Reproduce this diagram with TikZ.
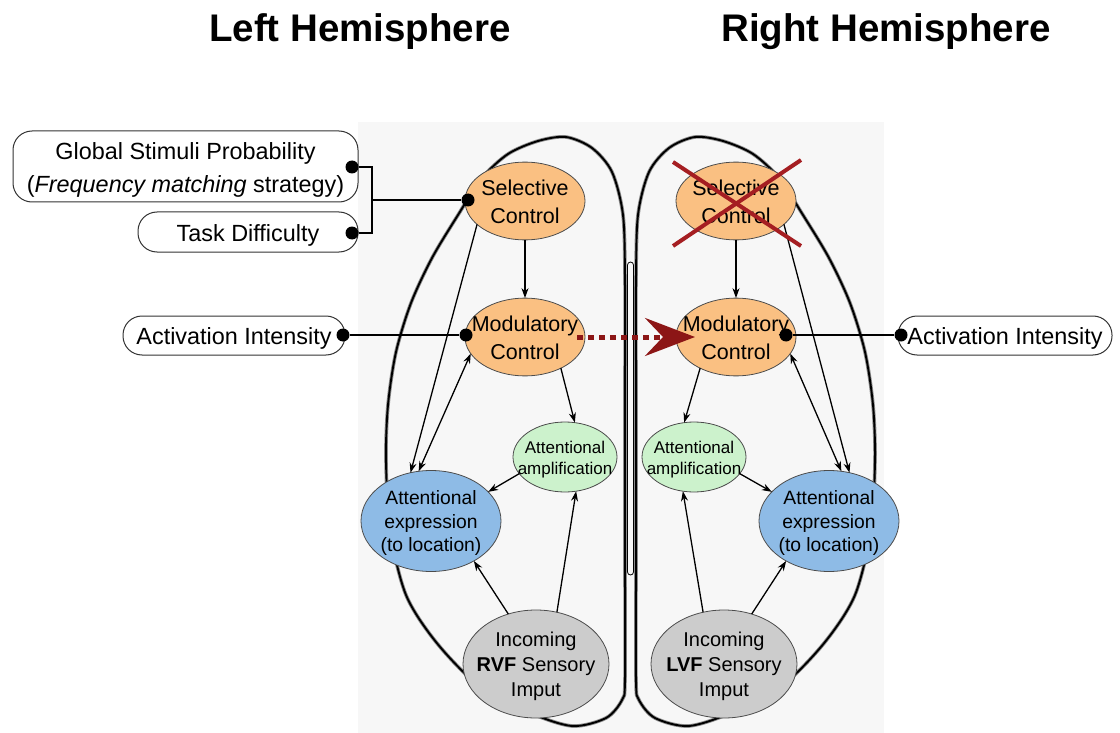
\documentclass[tikz,border=0pt]{standalone}
\usepackage{fontspec}
\setmainfont{Liberation Sans}
\usetikzlibrary{shapes.geometric,arrows.meta}
\definecolor{ctrlfill}{RGB}{250,192,130}
\definecolor{ampfill}{RGB}{204,242,204}
\definecolor{expfill}{RGB}{142,187,230}
\definecolor{incfill}{RGB}{204,204,204}
\definecolor{crossred}{RGB}{165,30,34}
\definecolor{arrred}{RGB}{140,22,22}
\definecolor{bggray}{RGB}{247,247,247}
\newcommand\lowr[1]{\raisebox{0pt}[\dimexpr\height+5pt\relax][\depth]{\begin{tabular}{@{}c@{}}#1\end{tabular}}}
\newcommand\ctr[1]{\makebox[0pt]{\lowr{#1}}}
\begin{document}
\begin{tikzpicture}[x=1pt,y=-1pt,
  ell/.style={ellipse, draw=black!70, line width=0.8pt, inner sep=-3pt, outer sep=0pt},
  ctrl/.style={ell, fill=ctrlfill, minimum width=120pt, minimum height=77pt, font=\fontsize{21.5}{28}\selectfont},
  amp/.style={ell, fill=ampfill, minimum width=104pt, minimum height=70pt, font=\fontsize{17}{21}\selectfont},
  expn/.style={ell, fill=expfill, minimum width=140pt, minimum height=101pt, font=\fontsize{19.3}{23.5}\selectfont},
  inc/.style={ell, fill=incfill, minimum width=146pt, minimum height=108pt, font=\fontsize{20}{25}\selectfont},
  factor/.style={draw=black!80, fill=white, line width=1pt, rounded corners=19pt, inner sep=0pt, font=\fontsize{23.4}{33}\selectfont},
  dot/.style={circle, fill=black, inner sep=0pt, minimum size=13pt},
  conn/.style={line width=1.3pt},
  arr/.style={line width=1.3pt, -{Stealth[length=10pt,width=7pt]}},
  darr/.style={line width=1.3pt, {Stealth[length=10pt,width=7pt]}-{Stealth[length=10pt,width=7pt]}},
  brainhalo/.style={line width=3.6pt, black!45, line join=round},
  brain/.style={line width=1.9pt, black, line join=round},
  titlefont/.style={font=\fontsize{38.5}{46}\selectfont\bfseries}
]
\useasboundingbox (0,0) rectangle (1120,733);
\fill[bggray] (358,122) rectangle (884,733);

% titles
\node[titlefont] (tl) at (360,32) {Left Hemisphere};
\node[titlefont] (tr) at (886,32) {Right Hemisphere};

% hemisphere outlines
\def\hemi{(625,680) (625,560) (625,400) (625,280) (623,215) (612,172) (592,148) (566,137) (538,141) (508,154) (482,178) (458,215) (432,258) (411,303) (396,352) (388,405) (386,460) (390,530) (406,595) (436,642) (478,685) (528,712) (572,726) (606,718) (622,700)}
\foreach \st in {brainhalo,brain}{
  \draw[\st] plot[smooth cycle, tension=0.5] coordinates {\hemi};
  \begin{scope}[xshift=1261pt, xscale=-1]
    \draw[\st] plot[smooth cycle, tension=0.5] coordinates {\hemi};
  \end{scope}
}
\draw[line width=0.8pt, rounded corners=3pt] (627.5,262) rectangle (633.5,575);

% left nodes
\node[ctrl] (selL) at (525,201) {\ctr{Selective\\Control}};
\node[ctrl] (modL) at (525,337) {\ctr{Modulatory\\Control}};
\node[amp]  (ampL) at (565,457) {\ctr{Attentional\\amplification}};
\node[expn] (expL) at (431,521) {\ctr{Attentional\\expression\\(to location)}};
\node[inc]  (incL) at (536,664) {\ctr{Incoming\\\textbf{RVF} Sensory\\Imput}};
% right nodes
\node[ctrl] (selR) at (736,201) {\ctr{Selective\\Control}};
\node[ctrl] (modR) at (736,337) {\ctr{Modulatory\\Control}};
\node[amp]  (ampR) at (694,457) {\ctr{Attentional\\amplification}};
\node[expn] (expR) at (829,521) {\ctr{Attentional\\expression\\(to location)}};
\node[inc]  (incR) at (724,664) {\ctr{Incoming\\\textbf{LVF} Sensory\\Imput}};

% factor boxes
\node[factor, minimum width=345pt, minimum height=71pt] (glob) at (185.5,166.5) {\lowr{Global Stimuli Probability\\(\textit{Frequency matching} strategy)}};
\node[factor, minimum width=220pt, minimum height=40pt] (task) at (248,232) {\lowr{Task Difficulty}};
\node[factor, minimum width=222pt, minimum height=39pt] (actL) at (234,335.5) {\lowr{Activation Intensity}};
\node[factor, minimum width=214pt, minimum height=39pt] (actR) at (1005,335.5) {\lowr{Activation Intensity}};

% dots
\node[dot] (gdot) at (352,167) {};
\node[dot] (tdot) at (352,233) {};
\node[dot] (sdot) at (468,200) {};
\node[dot] (aLdot) at (343,335) {};
\node[dot] (mLdot) at (466,335) {};
\node[dot] (mRdot) at (786,335) {};
\node[dot] (aRdot) at (901,335) {};
\coordinate (jt) at (372,167);
\coordinate (jb) at (372,233);
\coordinate (jm) at (372,200);

% connectors
\draw[conn] (gdot) -- (jt) -- (jb) -- (tdot);
\draw[conn] (jm) -- (sdot);
\draw[conn] (aLdot) -- (mLdot);
\draw[conn] (mRdot) -- (aRdot);

% left arrows
\draw[arr] (selL) -- (modL);
\draw[arr] (selL.206) -- (expL.113);
\draw[darr] (modL.197) -- (expL.104);
\draw[arr] (modL.319) -- (ampL.74);
\draw[arr] (ampL.200) -- (expL.27);
\draw[arr] (incL.119) -- (expL.317);
\draw[arr] (incL.68) -- (ampL.288);
% right arrows
\draw[arr] (selR) -- (modR);
\draw[arr] (selR.334) -- (expR.67);
\draw[darr] (modR.343) -- (expR.76);
\draw[arr] (modR.221) -- (ampR.106);
\draw[arr] (ampR.340) -- (expR.153);
\draw[arr] (incR.61) -- (expR.223);
\draw[arr] (incR.112) -- (ampR.252);

% red cross on right selective control
\draw[crossred, line width=4pt] (673,162) -- (801,246);
\draw[crossred, line width=4pt] (673,246) -- (801,160);

% red dotted arrow
\coordinate (redtip) at (695,337);
\draw[arrred, line width=5pt, dash pattern=on 6pt off 5pt, shorten <=-8pt,
  -{Stealth[length=50pt,width=38pt,inset=18pt]}] (modL.east) -- (redtip);
\end{tikzpicture}
\end{document}
